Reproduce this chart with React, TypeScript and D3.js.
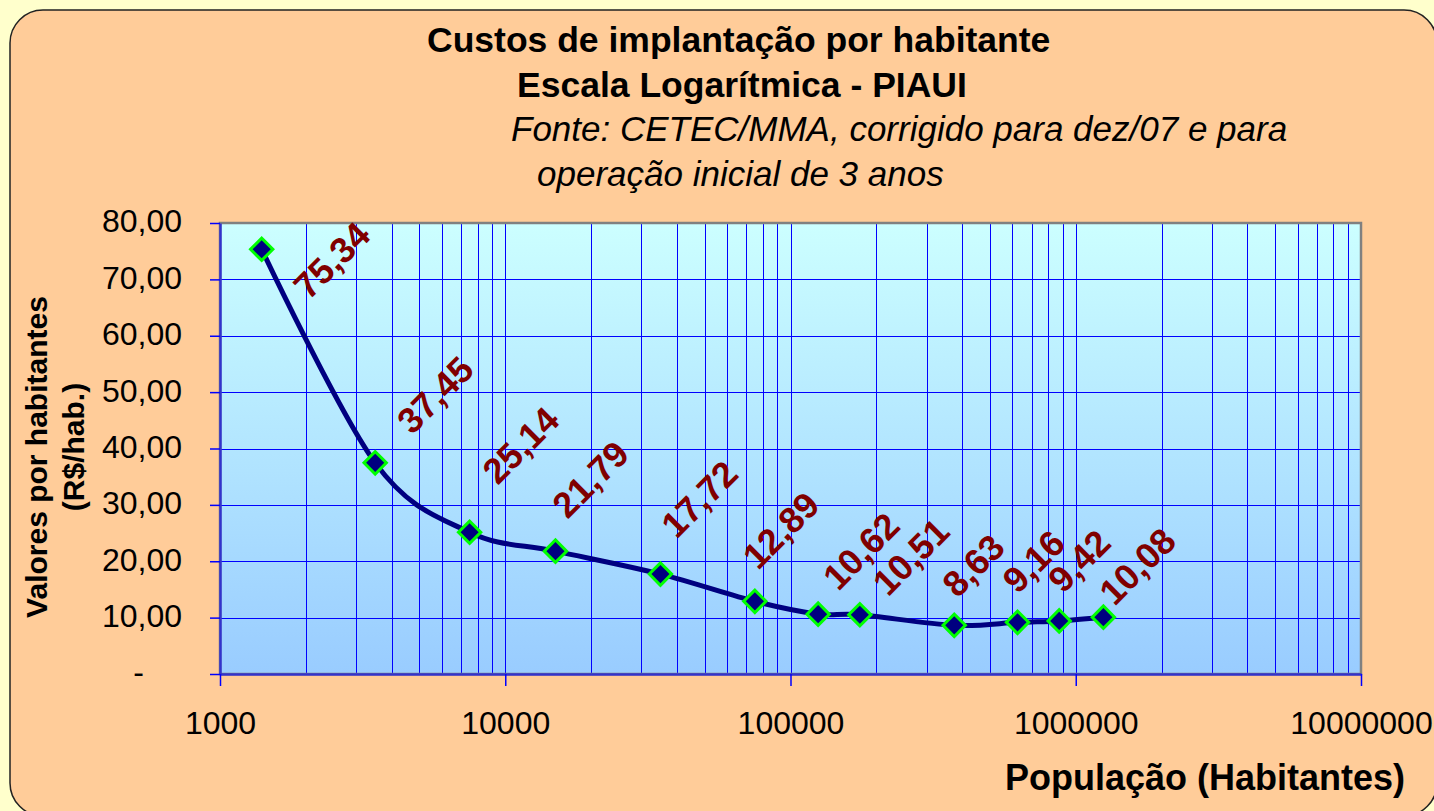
import { useEffect, useRef } from "react";
import * as d3 from "d3";

// chart values
const populations = [1400, 3500, 7500, 15000, 35000, 75000, 125000, 175000, 375000, 625000, 875000, 1250000];
const costs = [75.34, 37.45, 25.14, 21.79, 17.72, 12.89, 10.62, 10.51, 8.63, 9.16, 9.42, 10.08];
const yTicks = [0, 10, 20, 30, 40, 50, 60, 70, 80];
const xTicks = [1000, 10000, 100000, 1000000, 10000000];
const titleLines = ["Custos de implantação por habitante", "Escala Logarítmica - PIAUI"];
const sourceLines = ["Fonte: CETEC/MMA, corrigido para dez/07 e para", "operação inicial de 3 anos"];
const yTitleLines = ["Valores por habitantes", "(R$/hab.)"];
const xTitle = "População (Habitantes)";

// the data labels were dragged by hand in the original, so each one gets its own nudge (px, label centre from marker)
const labelShift = [
  [70, 11], [60, -68], [51, -87], [35, -72], [39, -75], [26, -71],
  [43, -63], [51, -58], [19, -60], [16, -61], [20, -60], [34, -51]
];

const FONT = "'Liberation Sans', Arial, sans-serif";
const br = d3.formatLocale({ decimal: ",", thousands: ".", grouping: [3], currency: ["R$", ""] });
const fmt2 = br.format(".2f");

function App() {
  const svgRef = useRef<SVGSVGElement>(null);

  useEffect(() => {
    const W = 1434;
    const H = 811;
    const margin = { top: 223, right: 73, bottom: 137, left: 220 };
    const width = W - margin.left - margin.right;
    const height = H - margin.top - margin.bottom;

    const svg = d3.select(svgRef.current);
    svg.selectAll("*").remove();

    const defs = svg.append("defs");
    const grad = defs.append("linearGradient")
      .attr("id", "plotFill")
      .attr("x1", 0).attr("y1", 0).attr("x2", 0).attr("y2", 1);
    grad.append("stop").attr("offset", "0%").attr("stop-color", "#CCFFFF");
    grad.append("stop").attr("offset", "100%").attr("stop-color", "#99CCFF");

    // page + rounded chart frame
    svg.append("rect").attr("width", W).attr("height", H).attr("fill", "#FFFFCC");
    svg.append("rect")
      .attr("x", 10).attr("y", 10)
      .attr("width", 1427).attr("height", 806)
      .attr("rx", 33).attr("ry", 33)
      .attr("fill", "#FFCC99")
      .attr("stroke", "#222")
      .attr("stroke-width", 1.5);

    // titles
    const titleStarts = [427, 517];
    const titleBase = [52, 97];
    titleLines.forEach((t, i) => {
      svg.append("text")
        .attr("x", titleStarts[i]).attr("y", titleBase[i])
        .attr("font-family", FONT).attr("font-size", 35.5).attr("font-weight", "bold")
        .attr("fill", "#000")
        .text(t);
    });
    const srcStarts = [511, 537];
    const srcBase = [141, 186];
    sourceLines.forEach((t, i) => {
      svg.append("text")
        .attr("x", srcStarts[i]).attr("y", srcBase[i])
        .attr("font-family", FONT).attr("font-size", 35).attr("font-style", "italic")
        .attr("fill", "#000")
        .text(t);
    });

    const g = svg.append("g").attr("transform", `translate(${margin.left},${margin.top})`);

    const x = d3.scaleLog().domain([1000, 10000000]).range([0, width]);
    const y = d3.scaleLinear().domain([0, 80]).range([height, 0]);

    g.append("rect")
      .attr("width", width).attr("height", height)
      .attr("fill", "url(#plotFill)");

    // grid
    const crisp = (v: number) => Math.round(v) + 0.5;
    g.append("g")
      .selectAll("line")
      .data(x.ticks().filter(d => d > 1000 && d < 10000000))
      .join("line")
      .attr("x1", d => crisp(x(d))).attr("x2", d => crisp(x(d)))
      .attr("y1", 0).attr("y2", height)
      .attr("stroke", "#0000FF").attr("stroke-width", 1);

    g.append("g")
      .selectAll("line")
      .data(yTicks.filter(d => d > 0 && d < 80))
      .join("line")
      .attr("x1", 0).attr("x2", width)
      .attr("y1", d => crisp(y(d))).attr("y2", d => crisp(y(d)))
      .attr("stroke", "#0000FF").attr("stroke-width", 1);

    // plot border (grey top/right, axes cover the other two)
    g.append("rect")
      .attr("width", width).attr("height", height)
      .attr("fill", "none")
      .attr("stroke", "#808080")
      .attr("stroke-width", 2.5);

    // axes
    const yAxis = g.append("g")
      .call(d3.axisLeft(y)
        .tickValues(yTicks)
        .tickSize(10)
        .tickSizeOuter(0)
        .tickPadding(28)
        .tickFormat(d => (+d === 0 ? "-" : fmt2(+d))));

    const xAxis = g.append("g")
      .attr("transform", `translate(0,${height})`)
      .call(d3.axisBottom(x)
        .tickValues(xTicks)
        .tickSize(12)
        .tickSizeOuter(0)
        .tickPadding(25)
        .tickFormat(d3.format("d")));

    [yAxis, xAxis].forEach(ax => {
      ax.select(".domain").attr("stroke", "#3333CC").attr("stroke-width", 2.5);
      ax.selectAll(".tick line").attr("stroke", "#0000FF").attr("stroke-width", 1.5);
      ax.selectAll(".tick text")
        .attr("font-family", FONT)
        .attr("font-size", 32)
        .attr("fill", "#000");
    });
    yAxis.selectAll<SVGTextElement, number>(".tick text")
      .attr("dy", "0.28em")
      .attr("dx", d => (d === 0 ? -38 : 0));

    // axis titles
    const yTitleBase = [47, 84];
    const yTitleMid = [457, 447];
    yTitleLines.forEach((t, i) => {
      svg.append("text")
        .attr("transform", `translate(${yTitleBase[i]},${yTitleMid[i]}) rotate(-90)`)
        .attr("text-anchor", "middle")
        .attr("font-family", FONT).attr("font-size", 30).attr("font-weight", "bold")
        .attr("fill", "#000")
        .text(t);
    });

    svg.append("text")
      .attr("x", 1405).attr("y", 790)
      .attr("text-anchor", "end")
      .attr("font-family", FONT).attr("font-size", 36).attr("font-weight", "bold")
      .attr("fill", "#000")
      .text(xTitle);

    // series
    const pts = populations.map((p, i) => ({ p, v: costs[i], i }));

    const line = d3.line<{ p: number; v: number }>()
      .x(d => x(d.p))
      .y(d => y(d.v))
      .curve(d3.curveCatmullRom.alpha(0));

    g.append("path")
      .datum(pts)
      .attr("d", line)
      .attr("fill", "none")
      .attr("stroke", "#000080")
      .attr("stroke-width", 5)
      .attr("stroke-linejoin", "round");

    const diamond = d3.symbol().type(d3.symbolSquare).size(250);
    g.append("g")
      .selectAll("path")
      .data(pts)
      .join("path")
      .attr("d", diamond)
      .attr("transform", d => `translate(${x(d.p)},${y(d.v)}) rotate(45)`)
      .attr("fill", "#000080")
      .attr("stroke", "#00FF00")
      .attr("stroke-width", 3);

    g.append("g")
      .selectAll("text")
      .data(pts)
      .join("text")
      .attr("transform", d => `translate(${x(d.p) + labelShift[d.i][0]},${y(d.v) + labelShift[d.i][1]}) rotate(-45)`)
      .attr("text-anchor", "middle")
      .attr("dy", "0.35em")
      .attr("font-family", FONT)
      .attr("font-size", 36)
      .attr("font-weight", "bold")
      .attr("fill", "#800000")
      .text(d => fmt2(d.v));
  }, []);

  return (
    <svg
      ref={svgRef}
      width={1434}
      height={811}
      style={{ position: "absolute", left: 0, top: 0, display: "block" }}
    />
  );
}

export default App;
